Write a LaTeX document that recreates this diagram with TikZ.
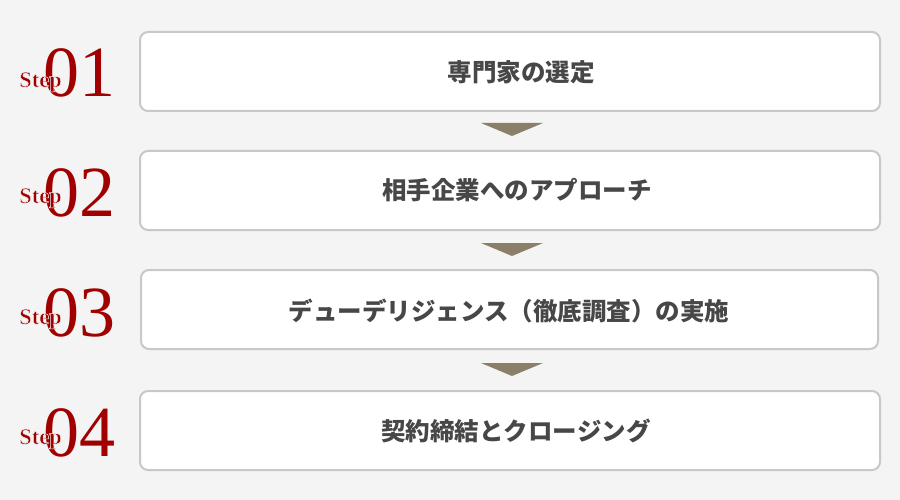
\documentclass[tikz,border=0pt]{standalone}
\usepackage{fontspec}
\newfontfamily\jp{Noto Sans CJK JP}
\newfontfamily\stepfont{Liberation Serif}
\definecolor{bgc}{HTML}{F4F4F4}
\definecolor{boxline}{HTML}{C8C8C8}
\definecolor{stepred}{HTML}{A00000}
\definecolor{txt}{HTML}{474747}
\definecolor{tri}{HTML}{8A7F68}
% "Step" drawn with a thin background-coloured outline, so it stands clear of the big digit
\newcommand{\haloword}[1]{\special{pdf:literal direct 2 Tr 0.5 w 0.957 0.957 0.957 RG}#1\special{pdf:literal direct 0 Tr}}
\tikzset{
  stepbox/.style={draw=boxline, line width=2pt, fill=white, rounded corners=8pt},
  steptxt/.style={font=\jp\bfseries\fontsize{24.5}{26}\selectfont, text=txt, inner sep=0pt},
  stepword/.style={font=\stepfont\bfseries\fontsize{22.5}{22.5}\selectfont, text=stepred, inner sep=0pt, anchor=base west},
  stepnum/.style={font=\stepfont\fontsize{72}{72}\selectfont, text=stepred, inner sep=0pt, anchor=base west},
  arrowtri/.style={fill=tri, draw=none}
}
\begin{document}
\begin{tikzpicture}[x=1pt,y=-1pt]
\fill[bgc] (0,0) rectangle (900,500);
\useasboundingbox (0,0) rectangle (900,500);
% boxes
\draw[stepbox] (140,32) rectangle (880,111); \coordinate (c1) at (510,72);
\draw[stepbox] (140,151) rectangle (880,230); \coordinate (c2) at (510,190);
\draw[stepbox] (141,270) rectangle (878,349); \coordinate (c3) at (510,310);
\draw[stepbox] (140,391) rectangle (880,470); \coordinate (c4) at (510,430);
% texts
\node[steptxt] (t1) at (521,72) {専門家の選定};
\node[steptxt] (t2) at (517,190) {相手企業へのアプローチ};
\node[steptxt] (t3) at (509,311) {デューデリジェンス（徹底調査）の実施};
\node[steptxt] (t4) at (516,431) {契約締結とクロージング};
% step numbers
\node[stepnum] (n1) at (43,97) {01};
\node[stepword] (s1) at (19,87) {\haloword{Step}};
\node[stepnum] (n2) at (43,216) {02};
\node[stepword] (s2) at (19,203) {\haloword{Step}};
\node[stepnum] (n3) at (43,336) {03};
\node[stepword] (s3) at (19,324) {\haloword{Step}};
\node[stepnum] (n4) at (43,456) {04};
\node[stepword] (s4) at (19,444) {\haloword{Step}};
% triangles
\fill[arrowtri] (481,123) -- (543,123) -- (512,136) -- cycle;
\fill[arrowtri] (481,243) -- (543,243) -- (512,256) -- cycle;
\fill[arrowtri] (481,363) -- (543,363) -- (512,376) -- cycle;
\end{tikzpicture}
\end{document}
